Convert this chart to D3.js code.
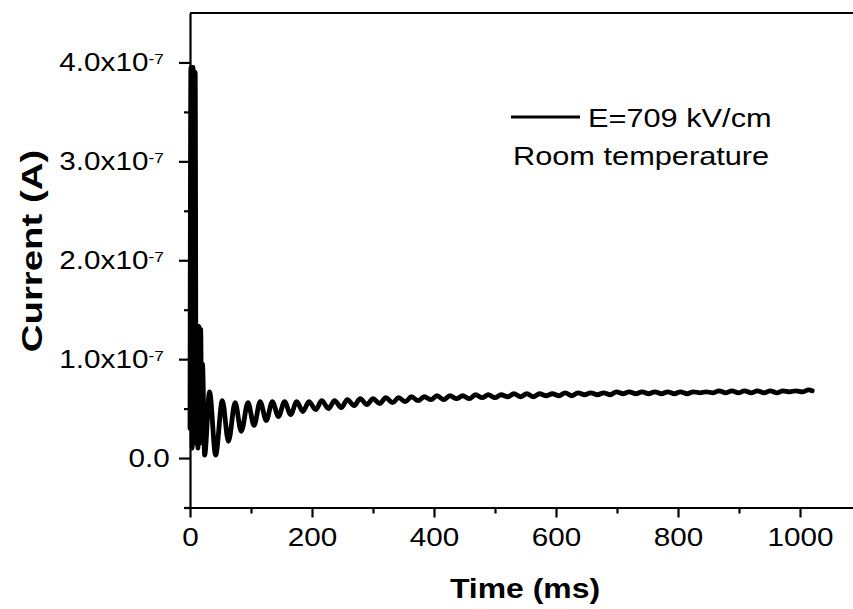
<!DOCTYPE html>
<html>
<head>
<meta charset="utf-8">
<script src="https://cdn.jsdelivr.net/npm/d3@7"></script>
<style>
  body { margin: 0; background: #fff; }
  svg { display: block; font-family: "Liberation Sans", Arial, sans-serif; }
</style>
</head>
<body>
<svg width="853" height="609"></svg>
<script>
// Time in ms and current in units of 1e-7 A
const timeMs = [
  0, 1.5, 3.5, 5, 7, 8.5, 10, 11.5, 13, 14.5, 16, 17.5, 19, 20.5,
  24, 32, 42, 53, 63, 74, 84, 95, 105, 115, 125, 135, 145, 155, 165, 175,
  185, 195, 206, 216, 227, 237, 248, 258, 269, 279, 290, 300, 311, 321,
  332, 342, 353, 363, 374, 384, 395, 405, 416, 426, 437, 447, 458, 468,
  479, 489, 500, 510, 521, 531, 542, 552, 563, 573, 584, 594, 605, 615,
  626, 636, 647, 657, 668, 678, 689, 699, 710, 720, 731, 741, 752, 762,
  773, 783, 794, 804, 815, 825, 836, 846, 857, 867, 878, 888, 899, 909,
  920, 930, 941, 951, 962, 972, 983, 993, 1004, 1014, 1020
];
const currentE7 = [
  0.3, 3.95, 0.1, 3.95, 0.15, 3.9, 0.2, 1.33, 0.1, 1.33, 0.15, 1.3, 0.4, 0.95,
  0.03, 0.67, 0.03, 0.58, 0.17, 0.56, 0.27, 0.56, 0.33, 0.57, 0.38, 0.57, 0.42, 0.57, 0.44, 0.57,
  0.47, 0.57, 0.49, 0.58, 0.50, 0.58, 0.51, 0.59, 0.53, 0.60, 0.54, 0.60, 0.55, 0.61,
  0.56, 0.61, 0.57, 0.62, 0.58, 0.62, 0.59, 0.63, 0.59, 0.63, 0.60, 0.63, 0.60, 0.64,
  0.61, 0.64, 0.61, 0.64, 0.62, 0.65, 0.62, 0.65, 0.62, 0.65, 0.63, 0.65, 0.63, 0.66,
  0.63, 0.66, 0.64, 0.66, 0.64, 0.66, 0.64, 0.67, 0.65, 0.67, 0.65, 0.67, 0.65, 0.67,
  0.65, 0.67, 0.65, 0.67, 0.65, 0.67, 0.66, 0.67, 0.66, 0.68, 0.66, 0.68, 0.66, 0.68,
  0.66, 0.68, 0.66, 0.68, 0.66, 0.68, 0.67, 0.68, 0.67, 0.69, 0.68
];

const xMajorTicks = [0, 200, 400, 600, 800, 1000];
const xMinorTicks = [100, 300, 500, 700, 900, 1100];
const yMajorTicks = [0, 1, 2, 3, 4];
const yMinorTicks = [-0.5, 0.5, 1.5, 2.5, 3.5];
const yTickLabels = ["0.0", "1.0x10", "2.0x10", "3.0x10", "4.0x10"];
const yTickExponent = "-7";

const seriesName = "E=709 kV/cm";
const noteText = "Room temperature";

const data = timeMs.map((t, i) => ({ t: t, a: currentE7[i] * 1e-7 }));

// plot box (right side runs off the picture like the original)
const box = { left: 190, top: 13, right: 861, bottom: 507.5 };
const stretch = 1.12; // the original glyphs are a bit wider than Arial

const svg = d3.select("svg");
svg.append("rect").attr("width", 853).attr("height", 609).attr("fill", "#fff");

const x = d3.scaleLinear().domain([0, 1100]).range([box.left, box.right]);
const y = d3.scaleLinear().domain([-0.5e-7, 4.5e-7]).range([box.bottom, box.top]);

// data line
const line = d3.line()
  .x(d => x(d.t))
  .y(d => y(d.a))
  .curve(d3.curveMonotoneX);

svg.append("path")
  .datum(data)
  .attr("fill", "none")
  .attr("stroke", "#000")
  .attr("stroke-width", 4.8)
  .attr("stroke-linejoin", "round")
  .attr("stroke-linecap", "round")
  .attr("d", line);

// frame (top and right)
svg.append("path")
  .attr("d", `M${box.left},${box.top}H${box.right}V${box.bottom}`)
  .attr("fill", "none")
  .attr("stroke", "#000")
  .attr("stroke-width", 2.2);

// x axis
const xAxis = svg.append("g")
  .attr("transform", `translate(0,${box.bottom})`)
  .call(d3.axisBottom(x).tickValues(xMajorTicks).tickSize(10).tickPadding(10).tickSizeOuter(0)
    .tickFormat(d3.format("d")));
svg.append("g")
  .attr("transform", `translate(0,${box.bottom})`)
  .call(d3.axisBottom(x).tickValues(xMinorTicks).tickSize(6).tickFormat(""))
  .call(g => g.select(".domain").remove());

xAxis.selectAll("text")
  .attr("font-size", 26.5)
  .attr("font-family", "Liberation Sans, Arial, sans-serif")
  .attr("fill", "#000")
  .attr("transform", `scale(${stretch},1)`);

// y axis
const yAxis = svg.append("g")
  .attr("transform", `translate(${box.left},0)`)
  .call(d3.axisLeft(y).tickValues(yMajorTicks.map(v => v * 1e-7)).tickSize(11).tickPadding(7).tickSizeOuter(0)
    .tickFormat((d, i) => yTickLabels[i]));
svg.append("g")
  .attr("transform", `translate(${box.left},0)`)
  .call(d3.axisLeft(y).tickValues(yMinorTicks.map(v => v * 1e-7)).tickSize(6).tickFormat(""))
  .call(g => g.select(".domain").remove());

yAxis.selectAll("text")
  .attr("font-size", 26.5)
  .attr("font-family", "Liberation Sans, Arial, sans-serif")
  .attr("fill", "#000")
  .attr("transform", `scale(${stretch},1)`)
  .each(function(d, i) {
    if (i === 0) return;
    const t = d3.select(this);
    t.attr("dx", -6 / stretch);
    t.append("tspan")
      .attr("dy", "-0.45em")
      .attr("font-size", 15.5)
      .text(yTickExponent);
  });

svg.selectAll(".domain, .tick line").attr("stroke", "#000").attr("stroke-width", 2.2);

// axis titles
svg.append("text")
  .attr("transform", `translate(525,598) scale(1.14,1)`)
  .attr("text-anchor", "middle")
  .attr("font-size", 28)
  .attr("font-weight", "bold")
  .text("Time (ms)");

svg.append("text")
  .attr("transform", `translate(42,251) rotate(-90) scale(1.28,1)`)
  .attr("text-anchor", "middle")
  .attr("font-size", 30)
  .attr("font-weight", "bold")
  .text("Current (A)");

// legend
const legend = svg.append("g").attr("transform", "translate(511,117)");
legend.append("line")
  .attr("x1", 0).attr("x2", 69)
  .attr("y1", 0).attr("y2", 0)
  .attr("stroke", "#000")
  .attr("stroke-width", 3.2);
legend.append("text")
  .attr("transform", `translate(77,10) scale(${stretch + 0.04},1)`)
  .attr("font-size", 26.5)
  .text(seriesName);
legend.append("text")
  .attr("transform", `translate(2,48) scale(${stretch + 0.04},1)`)
  .attr("font-size", 26.5)
  .text(noteText);
</script>
</body>
</html>
